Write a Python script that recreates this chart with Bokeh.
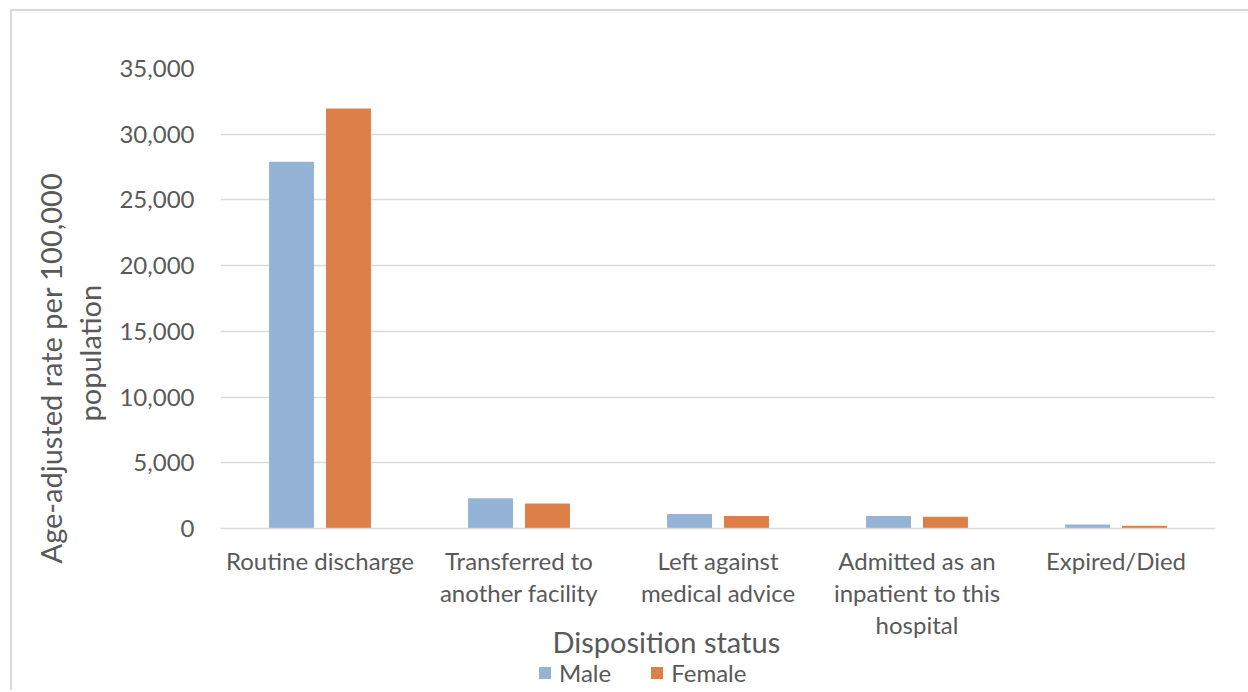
from bokeh.plotting import figure
from bokeh.layouts import column
from bokeh.models import (ColumnDataSource, FactorRange, Range1d, Legend, LegendItem,
                          NumeralTickFormatter, SingleIntervalTicker, Title)
from bokeh.transform import dodge
from bokeh.embed import file_html
from bokeh.resources import INLINE

categories = ["Routine discharge", "Transferred to\nanother facility", "Left against\nmedical advice",
              "Admitted as an\ninpatient to this\nhospital", "Expired/Died"]
male = [27900, 2300, 1100, 950, 300]
female = [31950, 1900, 950, 900, 210]
series_names = ["Male", "Female"]
colors = ["#95B3D7", "#DD8047"]
y_title_lines = ["Age-adjusted rate per 100,000", "population"]
x_title = "Disposition status"

FONT = "Lato"
TXT = "#595959"

src = ColumnDataSource(dict(cat=categories, male=male, female=female))

p = figure(x_range=FactorRange(*categories, range_padding=0), y_range=Range1d(0, 35000),
           width=1236, height=647, output_backend="svg", toolbar_location=None,
           min_border_left=208, min_border_top=57, min_border_right=33, min_border_bottom=130)
p.outline_line_color = None
p.background_fill_color = "white"

p.vbar(x=dodge("cat", -0.143, range=p.x_range), top="male", width=0.226, source=src,
       fill_color=colors[0], line_color=None)
p.vbar(x=dodge("cat", 0.143, range=p.x_range), top="female", width=0.226, source=src,
       fill_color=colors[1], line_color=None)

p.xgrid.grid_line_color = None
p.ygrid.grid_line_color = "#D9D9D9"
p.ygrid.grid_line_width = 1.5
p.yaxis.ticker = SingleIntervalTicker(interval=5000)
p.yaxis.formatter = NumeralTickFormatter(format="0,0")

for ax in (p.xaxis[0], p.yaxis[0]):
    ax.major_tick_line_color = None
    ax.minor_tick_line_color = None
    ax.major_label_text_font = FONT
    ax.major_label_text_color = TXT
    ax.major_label_text_font_size = "24px"

p.yaxis.axis_line_color = None
p.yaxis.major_label_standoff = 20

p.xaxis.axis_line_color = "#D9D9D9"
p.xaxis.axis_line_width = 1.5
p.xaxis.major_label_standoff = 11
p.xaxis.major_label_text_line_height = 1.11

# y-axis title, one Title per line (inner line first)
t_pop = Title(text=y_title_lines[1], align="left", offset=107, standoff=20,
              text_font=FONT, text_color=TXT, text_font_size="29px", text_font_style="normal")
p.add_layout(t_pop, "left")
t_age = Title(text=y_title_lines[0], align="left", offset=-35, standoff=-16,
              text_font=FONT, text_color=TXT, text_font_size="29px", text_font_style="normal")
p.add_layout(t_age, "left")

# x-axis title
xt = Title(text=x_title, align="left", offset=332, standoff=-37, vertical_align="middle",
           text_font=FONT, text_color=TXT, text_font_size="29px", text_font_style="normal")
p.add_layout(xt, "below")

# legend strip (frame is aligned with the chart's frame by the column layout)
p2 = figure(width=1236, height=32, output_backend="svg", toolbar_location=None,
            x_range=Range1d(0, 1), y_range=Range1d(0, 1),
            min_border=0, x_axis_type=None, y_axis_type=None)
p2.outline_line_color = None
p2.grid.visible = False
lr1 = p2.vbar(x=[0.5], top=[0], bottom=[0], width=0.01, fill_color=colors[0], line_color=None)
lr2 = p2.vbar(x=[0.5], top=[0], bottom=[0], width=0.01, fill_color=colors[1], line_color=None)
legend = Legend(items=[LegendItem(label=series_names[0], renderers=[lr1]),
                       LegendItem(label=series_names[1], renderers=[lr2])],
                orientation="horizontal", location=(317, 3),
                label_text_font=FONT, label_text_color=TXT, label_text_font_size="24px",
                glyph_width=15, glyph_height=15, label_standoff=7, spacing=38,
                padding=0, margin=0, border_line_color=None, background_fill_alpha=0)
p2.add_layout(legend, "center")

layout = column(p, p2, spacing=0,
                styles={"border-left": "2px solid #d9d9d9", "border-top": "2px solid #d9d9d9",
                        "margin-left": "10px", "margin-top": "9px"})

open("out.html", "w").write(file_html(layout, INLINE))
